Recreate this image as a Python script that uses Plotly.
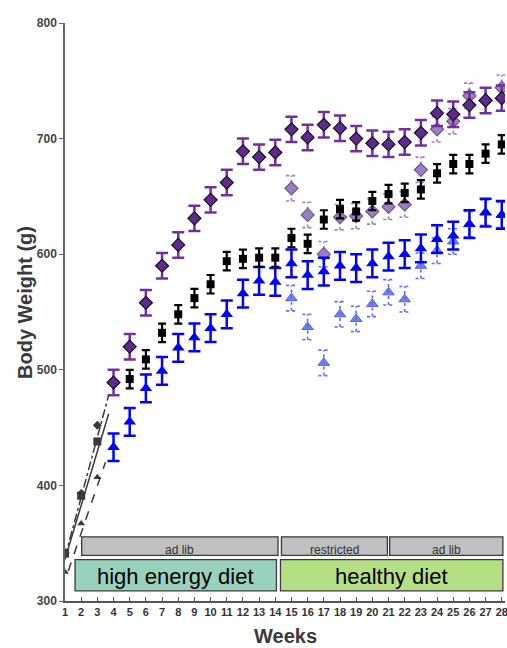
import plotly.graph_objects as go

# ---------------- data ----------------
weeks_main = list(range(4, 29))
# ad lib, high energy then healthy diet (dark purple diamonds)
purple_vals = [489, 520, 558, 590, 608, 631, 647, 662, 689, 684, 688, 708, 701, 712, 709, 700,
               696, 695, 697, 705, 722, 721, 729, 733, 735]
purple_err = [11] * 25
# black squares
black_vals = [None, 492, 509, 532, 548, 562, 574, 594, 596, 597, 597, 614, 609, 630, 639, 637,
              646, 652, 653, 656, 670, 678, 678, 687, 695]
black_err = [8] * 25
# blue triangles
blue_vals = [433, 455, 484, 499, 519, 528, 536, 548, 566, 577, 576, 592, 582, 585, 590, 588,
             592, 598, 600, 605, 613, 616, 626, 636, 634]
blue_err = [12] * 25

# restricted groups (weeks 15-28)
weeks_restr = list(range(15, 29))
lpurple_vals = [657, 634, 600, 632, 633, 637, 641, 643, 673, 708, 715, 737, 733, 744]
lpurple_err = [11] * 14
lblue_vals = [562, 537, 506, 548, 544, 557, 567, 561, 590, 603, 611, 626, 636, 634]
lblue_err = [11] * 14

# scanned early weeks
scan_weeks = [1, 2, 3]
scan_diamond = [342, 393, 452]
scan_square = [341, 391, 438]
scan_triangle = [325, 367, 407]
trend_weeks = [1, 3.7]
trend_diamond = [338, 478]
trend_square = [336, 462]
trend_weeks_t = [1.2, 3.5]
trend_triangle = [326, 420]

x_ticks = list(range(1, 29))
y_ticks = [300, 400, 500, 600, 700, 800]

# ---------------- figure ----------------
fig = go.Figure()

PURPLE = "#7030a0"
PURPLE_FILL = "#5e2a8c"
LPURPLE = "#9d7cc8"
BLUE = "#0000ff"
LBLUE = "#5b6cf2"
SCAN = "#3a3a3a"


def dotted_bars(xs, ys, es, color, cap=0.33):
    bx, by = [], []
    for x, y, e in zip(xs, ys, es):
        if y is None:
            continue
        bx += [x, x, None, x - cap, x + cap, None, x - cap, x + cap, None]
        by += [y - e, y + e, None, y - e, y - e, None, y + e, y + e, None]
    return go.Scatter(x=bx, y=by, mode="lines", line=dict(color=color, width=1.6, dash="dot"),
                      hoverinfo="skip", showlegend=False)


# scanned trend lines
fig.add_trace(go.Scatter(x=trend_weeks, y=trend_diamond, mode="lines",
                         line=dict(color=SCAN, width=1.5, dash="dashdot"), showlegend=False))
fig.add_trace(go.Scatter(x=trend_weeks, y=trend_square, mode="lines",
                         line=dict(color=SCAN, width=1.5), showlegend=False))
fig.add_trace(go.Scatter(x=trend_weeks_t, y=trend_triangle, mode="lines",
                         line=dict(color=SCAN, width=1.5, dash="dash"), showlegend=False))
fig.add_trace(go.Scatter(x=scan_weeks, y=scan_diamond, mode="markers",
                         marker=dict(symbol="diamond", size=7, color=SCAN), showlegend=False))
fig.add_trace(go.Scatter(x=scan_weeks, y=scan_square, mode="markers",
                         marker=dict(symbol="square", size=8, color=SCAN), showlegend=False))
fig.add_trace(go.Scatter(x=scan_weeks, y=scan_triangle, mode="markers",
                         marker=dict(symbol="triangle-up", size=7, color=SCAN), showlegend=False))

# restricted (dotted) groups
fig.add_trace(dotted_bars(weeks_restr, lblue_vals, lblue_err, LBLUE))
fig.add_trace(go.Scatter(x=weeks_restr, y=lblue_vals, mode="markers",
                         marker=dict(symbol="triangle-up", size=10, color=LBLUE, opacity=0.85,
                                     line=dict(color="#3344dd", width=1)),
                         showlegend=False))
fig.add_trace(dotted_bars(weeks_restr, lpurple_vals, lpurple_err, LPURPLE))
fig.add_trace(go.Scatter(x=weeks_restr, y=lpurple_vals, mode="markers",
                         marker=dict(symbol="diamond", size=10, color=LPURPLE,
                                     line=dict(color="#6a5a7a", width=1.2)),
                         showlegend=False))

# main groups
fig.add_trace(go.Scatter(x=weeks_main, y=blue_vals, mode="markers",
                         marker=dict(symbol="triangle-up", size=11, color=BLUE),
                         error_y=dict(type="data", array=blue_err, color=BLUE, thickness=2.5, width=6),
                         showlegend=False))
fig.add_trace(go.Scatter(x=weeks_main, y=black_vals, mode="markers",
                         marker=dict(symbol="square", size=8, color="#000000"),
                         error_y=dict(type="data", array=black_err, color="#000000", thickness=2.2, width=4),
                         showlegend=False))
fig.add_trace(go.Scatter(x=weeks_main, y=purple_vals, mode="markers",
                         marker=dict(symbol="diamond", size=10, color=PURPLE_FILL,
                                     line=dict(color="#1a1020", width=1.2)),
                         error_y=dict(type="data", array=purple_err, color=PURPLE, thickness=2.5, width=6),
                         showlegend=False))

# ---------------- boxes ----------------
gray_boxes = [(2.03, 14.17, "ad lib"), (14.38, 20.93, "restricted"), (21.07, 28.07, "ad lib")]
for x0, x1, label in gray_boxes:
    fig.add_shape(type="rect", xref="x", yref="y", x0=x0, x1=x1, y0=339.5, y1=355.5,
                  fillcolor="#c0c0c0", line=dict(color="#3a3a3a", width=1.3), layer="above")
    fig.add_annotation(x=(x0 + x1) / 2, y=344.3, xref="x", yref="y", text=label, showarrow=False,
                       font=dict(family="Arial, Liberation Sans", size=12, color="#333333"))

green_boxes = [(1.62, 14.07, "high energy diet", "#98d2bd"), (14.32, 28.07, "healthy diet", "#b4e083")]
for x0, x1, label, col in green_boxes:
    fig.add_shape(type="rect", xref="x", yref="y", x0=x0, x1=x1, y0=308.7, y1=335.8,
                  fillcolor=col, line=dict(color="#3a3a3a", width=1.3), layer="above")
    fig.add_annotation(x=(x0 + x1) / 2, y=321.5, xref="x", yref="y", text=label, showarrow=False,
                       font=dict(family="Arial, Liberation Sans", size=22, color="#000000"))

# axis titles as annotations (keeps the plot area fixed)
fig.add_annotation(x=0.5, y=-0.0606, xref="paper", yref="paper", yanchor="middle", text="<b>Weeks</b>",
                   showarrow=False, font=dict(family="Arial, Liberation Sans", size=20, color="#3a3a3a"))
fig.add_annotation(x=-0.0909, y=0.5156, xref="paper", yref="paper", xanchor="center", yanchor="middle",
                   text="<b>Body Weight (g)</b>", textangle=-90, showarrow=False,
                   font=dict(family="Arial, Liberation Sans", size=20, color="#3a3a3a"))

# ---------------- layout ----------------
fig.update_layout(
    width=507, height=648,
    margin=dict(l=65, r=2, t=23, b=47),
    paper_bgcolor="white", plot_bgcolor="white",
    showlegend=False,
    font=dict(family="Arial, Liberation Sans", color="#3a3a3a"),
    xaxis=dict(range=[1, 28.2], tickmode="array", tickvals=x_ticks, ticktext=[str(t) for t in x_ticks],
               tickangle=0, showgrid=False, zeroline=False, showline=True, linecolor="#555555",
               linewidth=1.5, ticks="inside", ticklen=4, tickcolor="#555555", automargin=False,
               ticklabeloverflow="allow",
               tickfont=dict(family="Arial, Liberation Sans", size=11, color="#333333", weight="bold")),
    yaxis=dict(range=[300, 800], tickmode="array", tickvals=y_ticks, showgrid=False, zeroline=False,
               showline=True, linecolor="#666666", linewidth=1.5, ticks="outside", ticklen=4,
               tickcolor="#666666", automargin=False,
               tickfont=dict(family="Arial, Liberation Sans", size=12, color="#444444", weight="bold")),
)

fig.write_html("out.html", config={"displayModeBar": False},
               post_script="document.body.style.margin='0px';document.body.style.overflow='hidden';")
